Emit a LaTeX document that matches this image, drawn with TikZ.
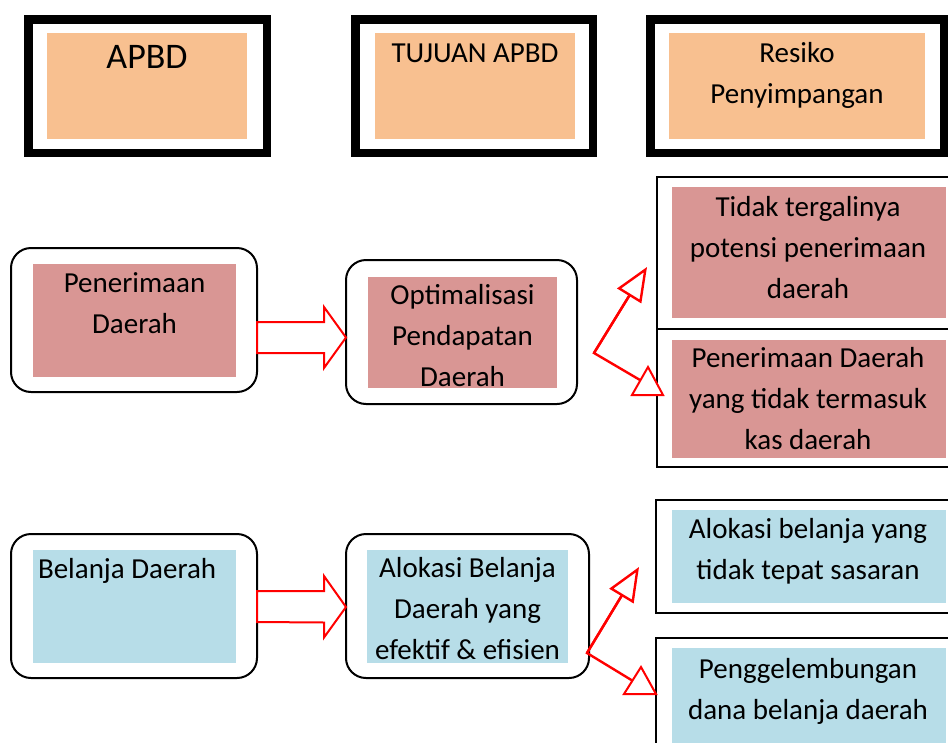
\documentclass[tikz,border=0pt]{standalone}
\usepackage{fontspec}
\setmainfont{Carlito}
\usetikzlibrary{arrows.meta,calc}
\definecolor{peach}{HTML}{F8C090}
\definecolor{rose}{HTML}{D99694}
\definecolor{sky}{HTML}{B7DDE8}
\begin{document}
\begin{tikzpicture}[x=1pt,y=-1pt,
  box/.style 2 args={rectangle,inner sep=0pt,outer sep=0pt,minimum width=#1pt,minimum height=#2pt},
  hdframe/.style={draw=black,line width=8.5pt,fill=white},
  roundbox/.style={draw=black,line width=2pt,rounded corners=20pt,fill=white},
  riskframe/.style={draw=black,line width=2pt,fill=white},
  txt/.style={inner sep=0pt,outer sep=0pt,align=center,anchor=base,font=\fontsize{29}{41}\selectfont},
  blockarr/.style={draw=red,line width=2pt,fill=white,line join=miter},
  redline/.style={draw=red,line width=2.4pt},
  openhead/.style={draw=red,line width=2pt,fill=white,line join=miter},
  uptip/.style={-{Triangle[open,length=34pt,width=28pt,fill=white]}}
]
\useasboundingbox (0,0) rectangle (948,742);

% ---------- header row ----------
\node[hdframe,box={238.5}{133.5}] (hA) at (147.5,86) {};
\node[hdframe,box={237.5}{133.5}] (hB) at (474,86) {};
\node[hdframe,box={293.5}{133.5}] (hC) at (797,86) {};
\node[fill=peach,box={200}{106}] (hAf) at (147,86) {};
\node[fill=peach,box={200}{106}] (hBf) at (475,86) {};
\node[fill=peach,box={256}{106}] (hCf) at (797,86) {};
% multi-line labels are placed by the baseline of their last line
\node[txt,font=\fontsize{36}{44}\selectfont] (hAt) at (147,68) {APBD};
\node[txt] (hBt) at (475,62) {TUJUAN APBD};
\node[txt] (hCt) at (797,103) {Resiko\\Penyimpangan};

% ---------- revenue row ----------
\node[roundbox,box={246}{144}] (rA) at (134,320) {};
\node[roundbox,box={231}{144}] (rB) at (461.5,332) {};
\node[fill=rose,box={203}{113}] (rAf) at (134.5,320.5) {};
\node[fill=rose,box={189}{111}] (rBf) at (462.5,332.5) {};
\node[txt] (rAt) at (134.5,333) {Penerimaan\\Daerah};
\node[txt] (rBt) at (462.5,386) {Optimalisasi\\Pendapatan\\Daerah};

\node[riskframe,box={333}{152}] (r1) at (823.5,253) {};
\node[riskframe,box={333}{138}] (r2) at (823.5,398) {};
\node[fill=rose,box={274}{131}] (r1f) at (809,252.5) {};
\node[fill=rose,box={274}{118}] (r2f) at (809,399) {};
\node[txt] (r1t) at (808,298) {Tidak tergalinya\\potensi penerimaan\\daerah};
\node[txt] (r2t) at (808,449) {Penerimaan Daerah\\yang tidak termasuk\\kas daerah};

% ---------- spending row ----------
\node[roundbox,box={246}{144}] (sA) at (134,606) {};
\node[roundbox,box={243}{144}] (sB) at (467.5,606) {};
\node[fill=sky,box={203}{113}] (sAf) at (134.5,606.5) {};
\node[fill=sky,box={201}{113}] (sBf) at (467.5,606.5) {};
\node[txt,anchor=base west] (sAt) at (38,578) {Belanja Daerah};
\node[txt] (sBt) at (467.5,659) {Alokasi Belanja\\Daerah yang\\efektif \& efisien};

\node[riskframe,box={334}{113}] (s1) at (823,556.5) {};
\node[riskframe,box={334}{162}] (s2) at (823,719) {};
\node[fill=sky,box={274}{93}] (s1f) at (809,556.5) {};
\node[fill=sky,box={274}{122}] (s2f) at (809,709) {};
\node[txt] (s1t) at (808,579) {Alokasi belanja yang\\tidak tepat sasaran};
\node[txt] (s2t) at (808,719) {Penggelembungan\\dana belanja daerah};

% ---------- block arrows between the rounded boxes ----------
\draw[blockarr] ($(rA.east)+(0,2)$) -- ++(67,0) -- ++(0,-15)
  -- ($(rB.west)+(0,5.5)$) -- ++(-22,30.5) -- ++(0,-15) -- ($(rA.east)+(0,33)$) -- cycle;
\draw[blockarr] ($(sA.east)+(0,-15)$) -- ++(67,0) -- ++(0,-15)
  -- ($(sB.west)+(0,1)$) -- ++(-22,30.5) -- ++(0,-15) -- ($(sA.east)+(0,16)$) -- cycle;

% ---------- branching arrows to the risks ----------
\coordinate (v1) at (594,353);
\coordinate (v1up) at (647,267);
\coordinate (v1dn) at (640,380);
\draw[redline,uptip] (v1) -- (v1up);
\draw[redline,line join=miter] (v1up) ++(-18,29) -- (v1) -- (v1dn);
\draw[openhead] (648,367) -- (663,395) -- (632,395) -- cycle;

\coordinate (v2) at (587,653);
\coordinate (v2up) at (639,567);
\coordinate (v2dn) at (633,681);
\draw[redline,uptip] (v2) -- (v2up);
\draw[redline,line join=miter] (v2up) ++(-17.5,29) -- (v2) -- (v2dn);
\draw[openhead] (641,667) -- (656,694) -- (624,694) -- cycle;
\end{tikzpicture}
\end{document}
